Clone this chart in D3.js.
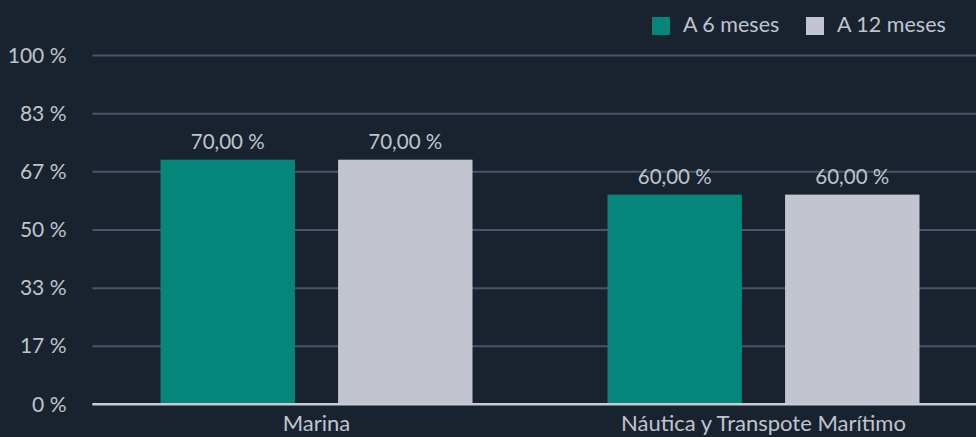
<!DOCTYPE html>
<html>
<head>
<meta charset="utf-8">
<script src="https://cdn.jsdelivr.net/npm/d3@7"></script>
<style>
  html, body { margin: 0; padding: 0; background: #18232f; }
  svg { display: block; font-family: Lato, "Open Sans", sans-serif; }
</style>
</head>
<body>
<svg id="chart" width="976" height="437"></svg>
<script>
// Categories and series
const categories = ["Marina", "Náutica y Transpote Marítimo"];
const seriesNames = ["A 6 meses", "A 12 meses"];
const sixMonths = [70, 60];
const twelveMonths = [70, 60];
const yTickValues = [0, 100 / 6, 200 / 6, 50, 400 / 6, 500 / 6, 100];
const yTickLabels = ["0 %", "17 %", "33 %", "50 %", "67 %", "83 %", "100 %"];

const colors = ["#06857a", "#c2c5cf"];
const textColor = "#c0c4ce";

const svg = d3.select("#chart");
const W = 976, H = 437;
const plotLeft = 92.5, plotTop = 55, plotBottom = 404, plotRight = 986.5;

const y = d3.scaleLinear().domain([0, 100]).range([plotBottom, plotTop]);
const x0 = d3.scaleBand().domain(categories).range([plotLeft, plotRight]).paddingInner(0).paddingOuter(0);
const x1 = d3.scaleBand().domain(seriesNames).range([68, 68 + 312]).paddingInner(0.243).paddingOuter(0);

const rows = categories.map((c, i) => ({
  cat: c,
  values: [
    { name: seriesNames[0], value: sixMonths[i] },
    { name: seriesNames[1], value: twelveMonths[i] }
  ]
}));

// Grid lines and y labels
const yAxis = d3.axisLeft(y)
  .tickValues(yTickValues)
  .tickFormat((d, i) => yTickLabels[i])
  .tickSize(-(W - plotLeft))
  .tickPadding(26);

const gy = svg.append("g").attr("transform", `translate(${plotLeft},0)`).call(yAxis);
gy.select(".domain").remove();
gy.selectAll(".tick line")
  .attr("stroke", (d) => d === 0 ? "#c8ccd4" : "#465668")
  .attr("stroke-width", 2);
gy.selectAll(".tick text")
  .attr("fill", textColor)
  .attr("font-size", 21)
  .attr("dy", "0.34em")
  .attr("font-family", "Lato, 'Open Sans', sans-serif");

// Bars
const groups = svg.append("g").selectAll("g")
  .data(rows)
  .join("g")
  .attr("transform", (d) => `translate(${x0(d.cat)},0)`);

groups.selectAll("rect")
  .data((d) => d.values)
  .join("rect")
  .attr("x", (d) => x1(d.name))
  .attr("y", (d) => y(d.value))
  .attr("width", x1.bandwidth())
  .attr("height", (d) => y(0) - y(d.value))
  .attr("fill", (d, i) => colors[i]);

// Value labels
const fmt = (v) => v.toFixed(2).replace(".", ",") + " %";
groups.selectAll("text.val")
  .data((d) => d.values)
  .join("text")
  .attr("class", "val")
  .attr("x", (d) => x1(d.name) + x1.bandwidth() / 2)
  .attr("y", (d) => y(d.value) - 11)
  .attr("text-anchor", "middle")
  .attr("fill", textColor)
  .attr("font-size", 20.5)
  .text((d) => fmt(d.value));

// Baseline redrawn over bars
svg.append("line")
  .attr("x1", plotLeft).attr("x2", W)
  .attr("y1", y(0)).attr("y2", y(0))
  .attr("stroke", "#c8ccd4").attr("stroke-width", 2);

// Category axis labels
svg.append("g").selectAll("text")
  .data(categories)
  .join("text")
  .attr("x", (d) => x0(d) + 68 + 312 / 2)
  .attr("y", 431)
  .attr("text-anchor", "middle")
  .attr("fill", textColor)
  .attr("font-size", 22)
  .text((d) => d);

// Legend
const legendX = [652, 806];
const legend = svg.append("g").selectAll("g")
  .data(seriesNames)
  .join("g")
  .attr("transform", (d, i) => `translate(${legendX[i]},17)`);
legend.append("rect")
  .attr("width", 18).attr("height", 18)
  .attr("fill", (d, i) => colors[i]);
legend.append("text")
  .attr("x", 31).attr("y", 15)
  .attr("fill", textColor)
  .attr("font-size", 21.5)
  .text((d) => d);
</script>
</body>
</html>
